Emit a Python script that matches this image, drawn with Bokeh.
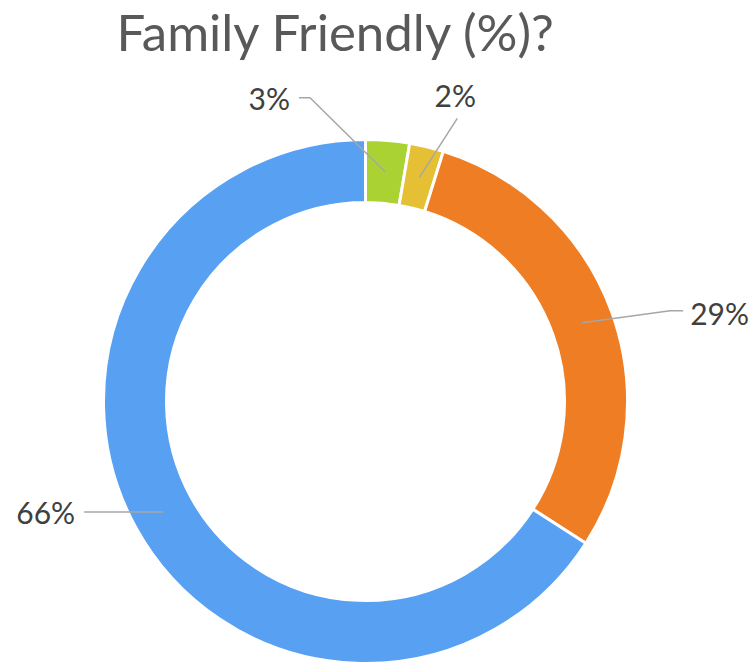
import numpy as np
from bokeh.plotting import figure
from bokeh.models import ColumnDataSource
from bokeh.core.properties import value
from bokeh.embed import file_html
from bokeh.resources import INLINE

# ---- data ----
categories = ["Slice 1", "Slice 2", "Slice 3", "Slice 4"]
shares = [2.7, 2.1, 29.3, 65.9]
labels = ["3%", "2%", "29%", "66%"]
colors = ["#A9D232", "#E6C034", "#EE7D23", "#58A0F2"]
title_text = "Family Friendly (%)?"

# ---- layout (pixel units) ----
W, H = 756, 663
cx, cy = 365, 262
r_out, r_in = 262, 199
r_mid = (r_out + r_in) / 2
FONT = "Lato"

p = figure(width=W, height=H, x_range=(0, W), y_range=(0, H),
           output_backend="svg", toolbar_location=None, min_border=0,
           x_axis_location=None, y_axis_location=None)
p.grid.visible = False
p.outline_line_color = None
p.background_fill_color = "white"
p.border_fill_color = "white"

vals = np.array(shares, dtype=float)
frac = vals / vals.sum()
cum = np.concatenate([[0], np.cumsum(frac)])
start = np.pi / 2 - 2 * np.pi * cum[:-1]
end = np.pi / 2 - 2 * np.pi * cum[1:]

src = ColumnDataSource(dict(cat=categories, start=start, end=end, color=colors))
p.annular_wedge(x=cx, y=cy, inner_radius=r_in, outer_radius=r_out,
                start_angle="start", end_angle="end", direction="clock",
                fill_color="color", line_color="white", line_width=3, source=src)

# leader lines and labels
mid = np.pi / 2 - 2 * np.pi * (cum[:-1] + frac / 2)
ax = cx + r_mid * np.cos(mid)
ay = cy + r_mid * np.sin(mid)

elbow_dx = [-75, 38, 88, -79]
elbow_dy = [74, 59, 12, 0]
tail_dx = [-11, 0, 13, 0]
text_dx = [-9, -2, 7, -9]
text_dy = [0, 23, -2, 0]
aligns = ["right", "center", "left", "right"]

xs, ys = [], []
for i in range(len(shares)):
    ex, ey = ax[i] + elbow_dx[i], ay[i] + elbow_dy[i]
    tx = ex + tail_dx[i]
    xs.append([ax[i], ex, tx])
    ys.append([ay[i], ey, ey])
    p.text(x=[tx + text_dx[i]], y=[ey + text_dy[i]], text=[labels[i]],
           text_font=value(FONT), text_font_size="30px", text_color="#404040",
           text_align=aligns[i], text_baseline="alphabetic")
p.multi_line(xs=xs, ys=ys, line_color="#A6A6A6", line_width=1.5)

p.text(x=[336], y=[632], text=[title_text], text_font=value(FONT),
       text_font_size="51px", text_color="#595959",
       text_align="center", text_baseline="alphabetic")

open("out.html", "w").write(file_html(p, INLINE))
